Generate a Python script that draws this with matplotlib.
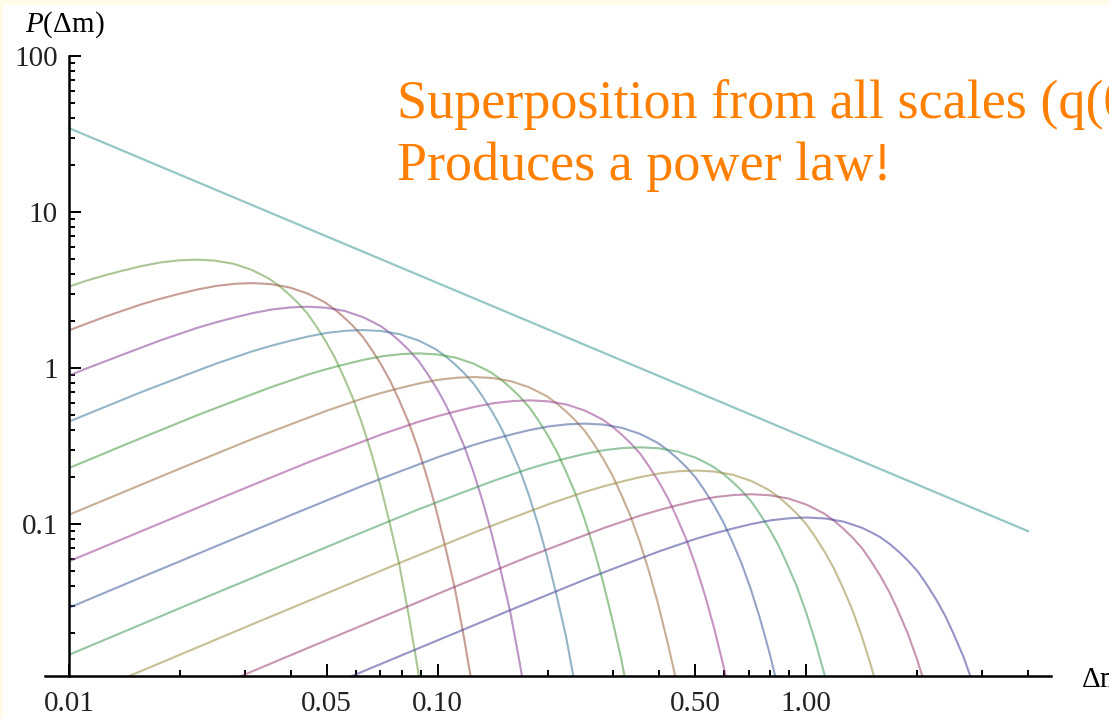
#superposition of scale distributions on log-log axes, with the power law envelope

import matplotlib
matplotlib.use('Agg')
import matplotlib.pyplot as plt
from matplotlib.patches import Rectangle
from matplotlib.ticker import FixedLocator, NullFormatter

plt.rcParams['font.family'] = ['Liberation Serif', 'DejaVu Serif']
plt.rcParams['mathtext.fontset'] = 'custom'
plt.rcParams['mathtext.rm'] = 'Liberation Serif'
plt.rcParams['mathtext.it'] = 'Liberation Serif:italic'

# peak of every single-scale curve (smallest scale first)
peak_dm = [0.0222, 0.0314, 0.0444, 0.0628, 0.0888, 0.1256, 0.178, 0.251, 0.355, 0.502, 0.71, 1.005]
peak_p = [4.95, 3.5, 2.47, 1.75, 1.24, 0.875, 0.62, 0.44, 0.31, 0.22, 0.155, 0.11]

# common curve shape, relative to the peak (dm / dm_peak, P / P_peak)
shape_u = [0.015, 0.063, 0.16, 0.25, 0.32, 0.4, 0.5, 0.56, 0.63, 0.71, 0.8, 0.9,
           1.0, 1.12, 1.26, 1.41, 1.5, 1.58, 1.68, 1.78, 1.88, 2.0, 2.11, 2.24,
           2.37, 2.5, 2.66, 2.82, 2.99, 3.16, 3.35, 3.55, 3.76, 3.98, 4.2, 4.4]
shape_r = [0.025, 0.104, 0.26, 0.40, 0.50, 0.61, 0.73, 0.79, 0.85, 0.91, 0.96, 0.99,
           1.0, 0.986, 0.94, 0.86, 0.80, 0.75, 0.675, 0.60, 0.53, 0.45, 0.375, 0.30,
           0.236, 0.18, 0.128, 0.087, 0.056, 0.035, 0.020, 0.011, 0.0053, 0.0024,
           0.001, 0.00045]

# sum over all scales
powerlaw_dm = [0.01, 4.0]
powerlaw_p = [34.5, 0.09]

curve_colors = ['#62993d', '#994e3d', '#843d99', '#3d7999', '#43993d', '#996d3d',
                '#993d90', '#3d5a99', '#3d9956', '#998b3d', '#993d71', '#3f3d99']
powerlaw_color = '#3d9997'

x_major = [0.01, 0.05, 0.1, 0.5, 1.0]
x_labels = ['0.01', '0.05', '0.10', '0.50', '1.00']
x_minor = [0.02, 0.03, 0.04, 0.06, 0.07, 0.08, 0.09, 0.2, 0.3, 0.4,
           0.6, 0.7, 0.8, 0.9, 2, 3, 4]
y_major = [0.1, 1, 10, 100]
y_labels = ['0.1', '1', '10', '100']
y_minor = [m * d for d in (0.01, 0.1, 1, 10) for m in range(2, 10)]

W, H = 1109, 718
fig = plt.figure(figsize=(W / 100, H / 100), dpi=100)
fig.patch.set_facecolor('#fffbe6')
fig.patches.append(Rectangle((3 / W, 0), 1, 1 - 5 / H, transform=fig.transFigure,
                             facecolor='white', edgecolor='none', zorder=-10))

ax = fig.add_axes([45 / W, 1 - 676 / H, (1051 - 45) / W, (676 - 56) / H])
ax.patch.set_alpha(0)
ax.set_xscale('log')
ax.set_yscale('log')
ax.set_xlim(0.00861, 4.62)
ax.set_ylim(0.0106, 100)
y0, y1 = ax.get_ylim()

# curves start at dm = 0.01, on the vertical axis, and stop at the horizontal one
for px, pp, col in zip(peak_dm, peak_p, curve_colors):
    xs = [px * u for u in shape_u]
    ys = [pp * r for r in shape_r]
    line, = ax.plot(xs, ys, color=col, lw=1.5, alpha=0.55)
    clip = Rectangle((0.01, y0), 100, y1 - y0, transform=ax.transData)
    line.set_clip_path(clip)

ax.plot(powerlaw_dm, powerlaw_p, color=powerlaw_color, lw=1.6, alpha=0.55)

# mathematica style axes crossing at dm = 0.01
for s in ['top', 'right']:
    ax.spines[s].set_visible(False)
ax.spines['left'].set_position(('data', 0.01))
ax.spines['left'].set_linewidth(1.8)
ax.spines['bottom'].set_linewidth(1.8)

ax.xaxis.set_major_locator(FixedLocator(x_major))
ax.xaxis.set_minor_locator(FixedLocator(x_minor))
ax.xaxis.set_minor_formatter(NullFormatter())
ax.set_xticklabels(x_labels)
ax.yaxis.set_major_locator(FixedLocator(y_major))
ax.yaxis.set_minor_locator(FixedLocator(y_minor))
ax.yaxis.set_minor_formatter(NullFormatter())
ax.set_yticklabels(y_labels)

ax.tick_params(axis='both', which='major', direction='in', length=8.5, width=1.4,
               labelsize=21, colors='black', labelcolor='#222222')
ax.tick_params(axis='both', which='minor', direction='in', length=4, width=1.4)
ax.tick_params(axis='x', which='major', pad=11)
ax.tick_params(axis='y', which='major', pad=8)
ax.tick_params(top=False, right=False)

fig.text(25 / W, 1 - 25 / H, r'$P(\Delta\mathrm{m})$', fontsize=21, va='center', ha='left')
fig.text(1081 / W, 1 - 680 / H, r'$\Delta\mathrm{m}$', fontsize=21, va='center', ha='left')

fig.text(397 / W, 1 - 118 / H, 'Superposition from all scales (q(0)=const)',
         fontsize=39, color='#ff8000', va='baseline', ha='left')
fig.text(397 / W, 1 - 180 / H, 'Produces a power law!',
         fontsize=39, color='#ff8000', va='baseline', ha='left')

fig.savefig('out.png', dpi=100)
